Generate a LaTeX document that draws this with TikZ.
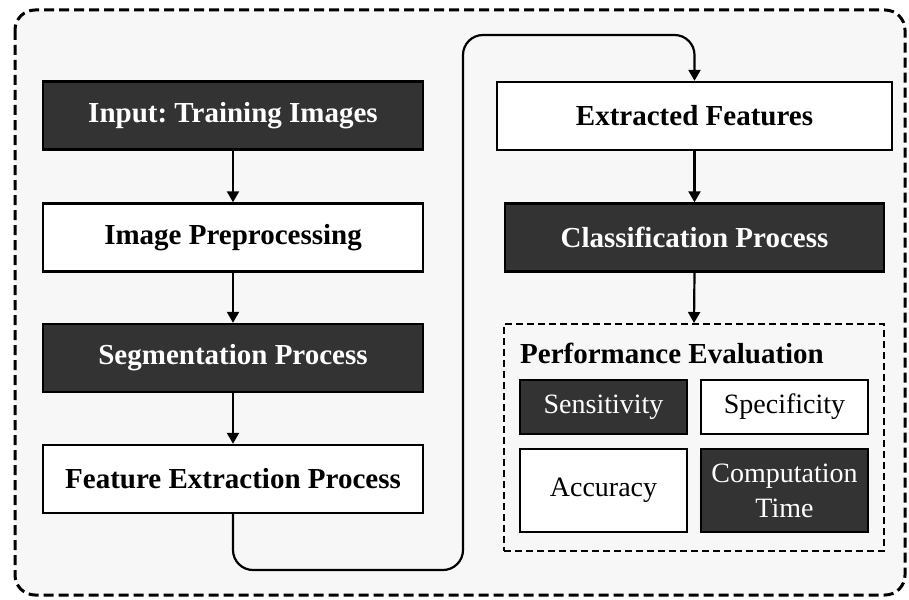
\documentclass[tikz,border=0pt]{standalone}
\usepackage{fontspec}
\setmainfont{Liberation Serif}
\usepackage{tikz}
\usetikzlibrary{arrows.meta}
\frenchspacing

\definecolor{boxdark}{HTML}{333333}
\definecolor{panel}{HTML}{F7F7F7}

\tikzset{
  stage/.style={shape=rectangle,draw=black,line width=2.4pt,fill=white,
    minimum width=380pt,minimum height=68pt,inner sep=0pt,
    font=\fontsize{29}{34}\selectfont\bfseries},
  darkstage/.style={stage,fill=boxdark,text=white},
  metric/.style={shape=rectangle,draw=black,line width=2.2pt,fill=white,
    minimum width=167pt,inner sep=0pt,align=center,
    font=\fontsize{28}{35}\selectfont},
  darkmetric/.style={metric,fill=boxdark,text=white},
  link/.style={-{Triangle[length=11pt,width=12pt]},line width=2.2pt}
}

\begin{document}
\begin{tikzpicture}[x=1pt,y=-1pt]
\useasboundingbox (0,0) rectangle (909,599);
\draw[line width=3pt,dash pattern=on 10pt off 5pt,rounded corners=20pt,fill=panel] (15,10) rectangle (905,595);

\node[darkstage] (inp) at (233,115.5) {Input: Training Images};
\node[stage] (pre) at (233,237.5) {Image Preprocessing};
\node[darkstage] (seg) at (233,358) {Segmentation Process};
\node[stage] (fex) at (233,479) {Feature Extraction Process};

\node[stage,minimum width=395pt] (ext) at (694.5,116) {Extracted Features};
\node[darkstage,minimum width=379pt] (cls) at (694.5,237.5) {Classification Process};

\node[shape=rectangle,draw=black,line width=2pt,dash pattern=on 7pt off 4pt,
  minimum width=380pt,minimum height=227pt] (perf) at (694,437.5) {};
\node[anchor=west,inner sep=0pt,font=\fontsize{29}{34}\selectfont\bfseries] (ttl) at (520,353) {Performance Evaluation};
\node[darkmetric,minimum height=54pt] (sen) at (603.5,407) {Sensitivity};
\node[metric,minimum height=54pt] (spe) at (784.5,407) {Specificity};
\node[metric,minimum height=83pt] (acc) at (603.5,490.5) {Accuracy};
\node[darkmetric,minimum height=83pt] (cmp) at (784.5,490.5) {Computation\\Time};

\coordinate (lpb) at (463,570);
\coordinate (lpt) at (463,35);

\path [link] (inp) edge (pre);
\path [link] (pre) edge (seg);
\path [link] (seg) edge (fex);
\draw [link,rounded corners=20pt] (fex.south) |- (lpb) -- (lpt) -| (ext.north);
\path [link] (ext) edge (cls);
\path [link] (cls.south) edge (perf.north);
\end{tikzpicture}
\end{document}
